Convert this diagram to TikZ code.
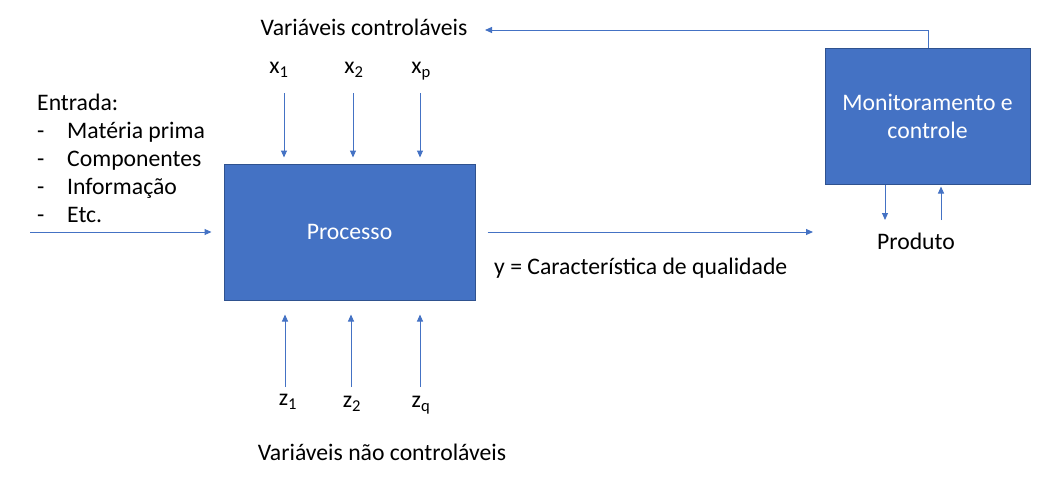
\documentclass[tikz,border=0pt]{standalone}
\usepackage{fontspec}
\setmainfont{Carlito}
\usetikzlibrary{arrows.meta}
\definecolor{azul}{RGB}{68,114,196}
\definecolor{azulborda}{RGB}{47,82,143}
\begin{document}
\begin{tikzpicture}[x=1pt,y=-1pt,
  bloco/.style={draw=azulborda, fill=azul, line width=1pt, text=white, align=center,
    font=\fontsize{23.7}{28}\selectfont},
  seta/.style={draw=azul, line width=1pt, -{Triangle[width=6pt,length=7pt]}},
  rotulo/.style={inner sep=0pt, font=\fontsize{23.7}{28}\selectfont}]
\useasboundingbox (0,0) rectangle (1048,477);

% blocos
\node[bloco, minimum width=251pt, minimum height=136pt] (proc) at (349.5,232) {Processo};
\node[bloco, minimum width=205pt, minimum height=136pt] (mon) at (927.5,116) {Monitoramento e\\controle};

% textos
\node[rotulo] (varc) at (364,27) {Variáveis controláveis};
\node[rotulo] (varnc) at (382,452) {Variáveis não controláveis};
\node[rotulo, anchor=west] (qual) at (494,268) {y = Característica de qualidade};
\node[rotulo] (prod) at (916,241) {Produto};
\node[rotulo, anchor=base west] (entr) at (37,110) {Entrada:};
\foreach \item [count=\i] in {Matéria prima, Componentes, Informação, Etc.} {
  \node[rotulo, anchor=base west] (traco\i) at (37,110+28*\i) {-};
  \node[rotulo, anchor=base west] (item\i) at (67,110+28*\i) {\item};
}

% variaveis x e z
\node[rotulo] (x1) at (279,70) {x\textsubscript{1}};
\node[rotulo] (x2) at (354,70) {x\textsubscript{2}};
\node[rotulo] (xp) at (421,71) {x\textsubscript{p}};
\node[rotulo] (z1) at (288,402) {z\textsubscript{1}};
\node[rotulo] (z2) at (352,404) {z\textsubscript{2}};
\node[rotulo] (zq) at (421,405) {z\textsubscript{q}};

\coordinate (ax1) at (284,93);
\coordinate (ax2) at (353,93);
\coordinate (axp) at (420,93);
\coordinate (az1) at (285,387);
\coordinate (az2) at (351,387);
\coordinate (azq) at (420,387);
\draw[seta, shorten >=6pt] (ax1) -- (ax1 |- proc.north);
\draw[seta, shorten >=6pt] (ax2) -- (ax2 |- proc.north);
\draw[seta, shorten >=6pt] (axp) -- (axp |- proc.north);
\draw[seta, shorten >=14pt] (az1) -- (az1 |- proc.south);
\draw[seta, shorten >=14pt] (az2) -- (az2 |- proc.south);
\draw[seta, shorten >=14pt] (azq) -- (azq |- proc.south);

% entrada e saida
\coordinate (ent) at (30,232);
\coordinate (sai) at (813,232);
\draw[seta, shorten >=12pt] (ent) -- (proc.west);
\draw[seta, shorten <=12pt] (proc.east) -- (sai);

% realimentacao
\coordinate (fb) at (928,30);
\coordinate (fbfim) at (485,30);
\draw[seta] (fb |- mon.north) -- (fb) -- (fbfim);

% produto
\coordinate (pdesce) at (885,220);
\coordinate (psobe) at (941,220);
\draw[seta] (pdesce |- mon.south) -- (pdesce);
\draw[seta, shorten >=2pt] (psobe) -- (psobe |- mon.south);
\end{tikzpicture}
\end{document}
